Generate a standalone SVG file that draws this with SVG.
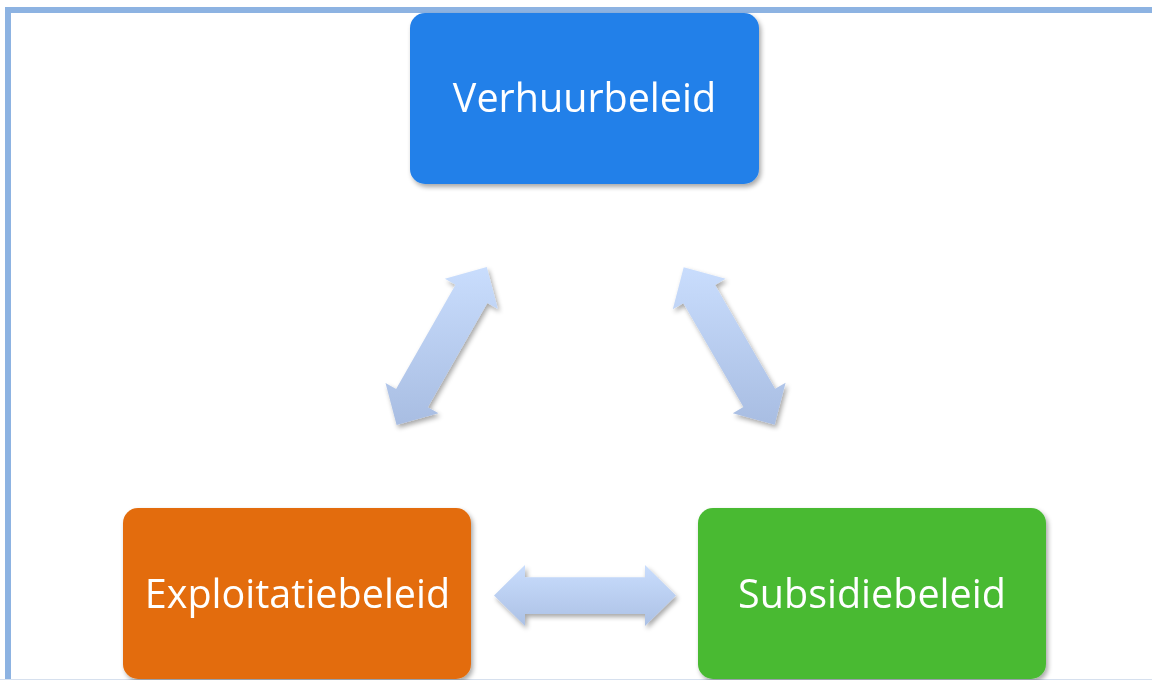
<svg xmlns="http://www.w3.org/2000/svg" width="1152" height="680" viewBox="0 0 1152 680">
  <style>
    .box { stroke: none; }
    .label { font-family: "Open Sans", "Liberation Sans", sans-serif; font-size: 39.5px; fill: #ffffff; text-anchor: middle; }
    .arrow { stroke: none; }
  </style>
  <defs>
    <filter id="shadow" x="-10%" y="-10%" width="130%" height="130%">
      <feGaussianBlur in="SourceAlpha" stdDeviation="2.5"/>
      <feOffset dx="2" dy="3" result="b"/>
      <feComponentTransfer><feFuncA type="linear" slope="0.35"/></feComponentTransfer>
      <feMerge><feMergeNode/><feMergeNode in="SourceGraphic"/></feMerge>
    </filter>
    <linearGradient id="gDiag" gradientUnits="userSpaceOnUse" x1="0" y1="267" x2="0" y2="425">
      <stop offset="0" stop-color="#c9ddfd"/>
      <stop offset="1" stop-color="#a8bde2"/>
    </linearGradient>
    <linearGradient id="gBottom" gradientUnits="userSpaceOnUse" x1="0" y1="565" x2="0" y2="626">
      <stop offset="0" stop-color="#c9ddfd"/>
      <stop offset="1" stop-color="#acc1e5"/>
    </linearGradient>
  </defs>

  <rect x="0" y="0" width="1152" height="680" fill="#ffffff"/>

  <!-- page frame -->
  <rect x="8" y="10" width="1170" height="690" fill="none" stroke="#8db3e2" stroke-width="6"/>
  <line x1="0" y1="679.5" x2="1152" y2="679.5" stroke="#d6e0ee" stroke-width="1"/>

  <!-- double-headed connectors -->
  <g id="connectors" filter="url(#shadow)">
    <polygon class="arrow" fill="url(#gDiag)" points="486.8,267 444.9,278.8 455.5,284.8 396.1,389.1 385.5,383 396.6,425 438.5,413.2 427.9,407.2 487.3,303 497.9,309"/>
    <polygon class="arrow" fill="url(#gDiag)" points="683.7,267.2 672.8,309.3 683.4,303.2 743.4,407.1 732.8,413.2 774.7,424.8 785.6,382.7 775.1,388.8 715.1,284.9 725.6,278.8"/>
    <polygon class="arrow" fill="url(#gBottom)" points="494,595.5 525,565 525,577.3 645,577.3 645,565 676,595.5 645,626 645,614 525,614 525,626"/>
  </g>

  <g id="verhuurbeleid" filter="url(#shadow)">
    <rect class="box" x="410" y="13" width="349" height="171" rx="15" fill="#2480e9"/>
    <text class="label" x="584.5" y="112">Verhuurbeleid</text>
  </g>

  <g id="exploitatiebeleid" filter="url(#shadow)">
    <rect class="box" x="123" y="508" width="348" height="171" rx="15" fill="#e36c0b"/>
    <text class="label" x="297.5" y="608">Exploitatiebeleid</text>
  </g>

  <g id="subsidiebeleid" filter="url(#shadow)">
    <rect class="box" x="698" y="508" width="348" height="171" rx="15" fill="#48ba33"/>
    <text class="label" x="872" y="608">Subsidiebeleid</text>
  </g>
</svg>
